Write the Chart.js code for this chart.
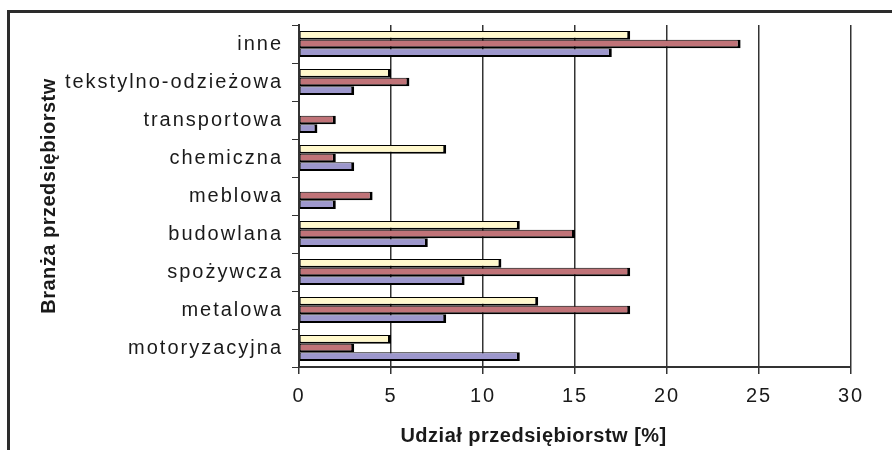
<!DOCTYPE html>
<html>
<head>
<meta charset="utf-8">
<script src="https://cdn.jsdelivr.net/npm/chart.js@4/dist/chart.umd.min.js"></script>
<style>
  html, body { margin: 0; padding: 0; background: #ffffff; }
  #wrap { position: relative; width: 892px; height: 450px; }
  #frame { position: absolute; left: 7px; top: 10px; right: 0; bottom: 0;
           border-top: 3px solid #2c2c2c; border-left: 3px solid #2c2c2c; pointer-events: none; }
  canvas { display: block; }
</style>
</head>
<body>
<div id="wrap">
  <canvas id="c" width="892" height="450" style="width:892px;height:450px"></canvas>
  <div id="frame"></div>
</div>
<script>
// Categories (top to bottom)
const categories = ['inne', 'tekstylno-odzieżowa', 'transportowa', 'chemiczna', 'meblowa',
                    'budowlana', 'spożywcza', 'metalowa', 'motoryzacyjna'];
// Series values [%] (no legend in the original)
const seriesYellow = [18, 5, 0, 8, 0, 12, 11, 13, 5];
const seriesRed    = [24, 6, 2, 2, 4, 15, 18, 18, 3];
const seriesBlue   = [17, 3, 1, 3, 2, 7, 9, 8, 12];
// Value axis ticks
const xTicks = [0, 5, 10, 15, 20, 25, 30];
const xTitle = 'Udział przedsiębiorstw [%]';
const yTitle = 'Branża przedsiębiorstw';

const FONT = '"Liberation Sans", Arial, sans-serif';
const TEXT = '#1a1a1a';

const spacingPlugin = {
  id: 'spacing',
  afterInit(chart) { chart.ctx.letterSpacing = '2px'; },
  beforeUpdate(chart) { chart.ctx.letterSpacing = '2px'; },
  beforeDraw(chart) { chart.ctx.letterSpacing = '2px'; }
};

const titlesPlugin = {
  id: 'axisTitles',
  afterDraw(chart) {
    const ctx = chart.ctx;
    const a = chart.chartArea;
    ctx.save();
    ctx.letterSpacing = '0.5px';
    ctx.fillStyle = TEXT;
    ctx.font = 'bold 20px ' + FONT;
    ctx.textAlign = 'center';
    ctx.textBaseline = 'alphabetic';
    const xs = chart.scales.x;
    ctx.fillText(xTitle, xs.getPixelForValue(12.75), 442);
    ctx.translate(chart.scales.y.left + 31, (a.top + a.bottom) / 2);
    ctx.rotate(-Math.PI / 2);
    ctx.fillText(yTitle, 0, 0);
    ctx.restore();
  }
};

const common = {
  borderColor: '#000000',
  borderWidth: { top: 1, bottom: 2, left: 1, right: 3 },
  borderSkipped: false,
  categoryPercentage: 0.68,
  barPercentage: 1.0
};

new Chart(document.getElementById('c'), {
  type: 'bar',
  data: {
    labels: categories,
    datasets: [
      Object.assign({ label: 's1', data: seriesYellow, backgroundColor: '#FFF8CC' }, common),
      Object.assign({ label: 's2', data: seriesRed, backgroundColor: '#C07378' }, common),
      Object.assign({ label: 's3', data: seriesBlue, backgroundColor: '#9D97CC' }, common)
    ]
  },
  options: {
    indexAxis: 'y',
    responsive: false,
    animation: false,
    devicePixelRatio: 1,
    layout: { padding: { left: 24, right: 41, top: 25, bottom: 0 } },
    plugins: { legend: { display: false }, tooltip: { enabled: false }, title: { display: false } },
    scales: {
      x: {
        type: 'linear',
        min: 0, max: 30,
        afterBuildTicks(scale) { scale.ticks = xTicks.map(v => ({ value: v })); },
        afterFit(scale) { scale.height = 83; },
        grid: { color: '#333333', lineWidth: 1.5, drawTicks: true, tickLength: 7, tickColor: '#333333' },
        border: { display: true, color: '#333333', width: 2 },
        ticks: { color: TEXT, font: { family: FONT, size: 20 }, padding: 10, maxRotation: 0 },
        title: { display: false }
      },
      y: {
        type: 'category',
        afterFit(scale) { scale.width = 275; },
        grid: { display: true, drawOnChartArea: false, drawTicks: true, tickLength: 7, tickColor: '#333333', offset: true },
        border: { display: true, color: '#333333', width: 2 },
        ticks: { color: TEXT, font: { family: FONT, size: 20 }, padding: 9, autoSkip: false },
        title: { display: false }
      }
    }
  },
  plugins: [spacingPlugin, titlesPlugin]
});
</script>
</body>
</html>
